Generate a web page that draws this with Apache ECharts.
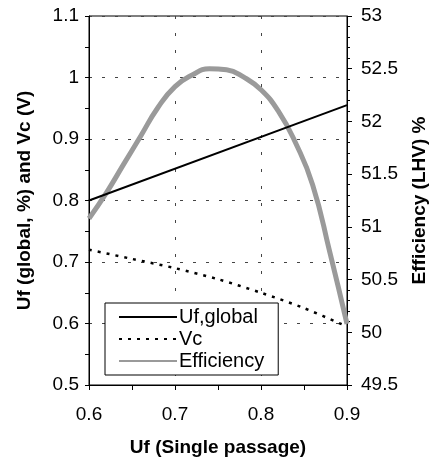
<!DOCTYPE html>
<html><head><meta charset="utf-8">
<script src="https://cdn.jsdelivr.net/npm/echarts@6/dist/echarts.min.js"></script>
<style>html,body{margin:0;padding:0;background:#fff}#c{width:433px;height:458px}</style>
</head><body><div id="c"></div>
<script>
var ufX = [0.6, 0.9];
var ufGlobal = [0.80, 0.955];
var vcX = [0.6, 0.65, 0.7, 0.75, 0.8, 0.85, 0.9];
var vc = [0.72, 0.705, 0.69, 0.672, 0.65, 0.625, 0.595];
var effX = [0.6, 0.62, 0.64, 0.66, 0.68, 0.70, 0.72, 0.74, 0.76, 0.78, 0.80, 0.82, 0.84, 0.86, 0.88, 0.90];
var eff = [51.08, 51.32, 51.59, 51.86, 52.13, 52.33, 52.44, 52.5, 52.49, 52.42, 52.3, 52.1, 51.8, 51.4, 50.76, 50.08];

function pairs(xs, ys){ return xs.map(function(x,i){return [x, ys[i]];}); }
var FONT = '"Liberation Sans", Arial, sans-serif';
var FS = 19;
var chart = echarts.init(document.getElementById('c'));
chart.setOption({
  animation:false,
  textStyle:{fontFamily:FONT},
  grid:{left:89, right:86, top:16, bottom:73, show:true, borderColor:'#000', borderWidth:1, outerBoundsMode:'none', containLabel:false},
  legend:{
    orient:'vertical', left:105, top:303,
    data:['Uf,global','Vc','Efficiency'],
    itemWidth:58, itemHeight:12, itemGap:2,
    borderColor:'#000', borderWidth:1, padding:[4,14,4,13],
    backgroundColor:'#fff',
    itemStyle:{opacity:0},
    textStyle:{fontSize:20, color:'#000', fontFamily:FONT, padding:[0,0,0,-3]}
  },
  xAxis:{
    type:'value', min:0.6, max:0.9, interval:0.1,
    name:'Uf (Single passage)', nameLocation:'middle', nameGap:53,
    nameTextStyle:{fontSize:FS, fontWeight:'bold', color:'#000'},
    axisLine:{lineStyle:{color:'#000'}},
    axisTick:{length:5, lineStyle:{color:'#000'}},
    minorTick:{show:true, splitNumber:2, length:5, lineStyle:{color:'#000'}},
    axisLabel:{fontSize:FS, color:'#000', margin:20, formatter:function(v){return v.toFixed(1);}},
    splitLine:{show:true, lineStyle:{color:'#444', type:[3,14], width:1}}
  },
  yAxis:[{
    type:'value', min:0.5, max:1.1, interval:0.1,
    name:'Uf (global, %) and Vc (V)', nameLocation:'middle', nameGap:55,
    nameTextStyle:{fontSize:FS, fontWeight:'bold', color:'#000'},
    axisLine:{show:true, lineStyle:{color:'#000'}},
    axisTick:{show:true, length:4, lineStyle:{color:'#000'}},
    minorTick:{show:true, splitNumber:2, length:4, lineStyle:{color:'#000'}},
    axisLabel:{fontSize:FS, color:'#000', margin:10, formatter:function(v){return v===1?'1':String(Math.round(v*10)/10);}},
    splitLine:{show:true, lineStyle:{color:'#444', type:[3,10], width:1}}
  },{
    type:'value', min:49.5, max:53, interval:0.5, position:'right',
    name:'Efficiency (LHV) %', nameLocation:'middle', nameGap:63, nameRotate:90,
    nameTextStyle:{fontSize:FS, fontWeight:'bold', color:'#000'},
    axisLine:{show:true, lineStyle:{color:'#000'}},
    axisTick:{show:true, length:5, lineStyle:{color:'#000'}},
    minorTick:{show:true, splitNumber:5, length:3, lineStyle:{color:'#000'}},
    axisLabel:{fontSize:FS, color:'#000', margin:14, formatter:function(v){return String(Math.round(v*10)/10);}},
    splitLine:{show:false}
  }],
  series:[
    {name:'Uf,global', type:'line', data:pairs(ufX, ufGlobal), symbol:'none', color:'#000',
     lineStyle:{color:'#000', width:2}, z:3},
    {name:'Vc', type:'line', data:pairs(vcX, vc), symbol:'none', smooth:0.3, color:'#000',
     lineStyle:{color:'#000', width:2.5, type:[3,6]}, z:3},
    {name:'Efficiency', type:'line', yAxisIndex:1, data:pairs(effX, eff), symbol:'none', smooth:0.5, color:'#999',
     lineStyle:{color:'#9a9a9a', width:5}, z:2}
  ]
});
</script></body></html>
